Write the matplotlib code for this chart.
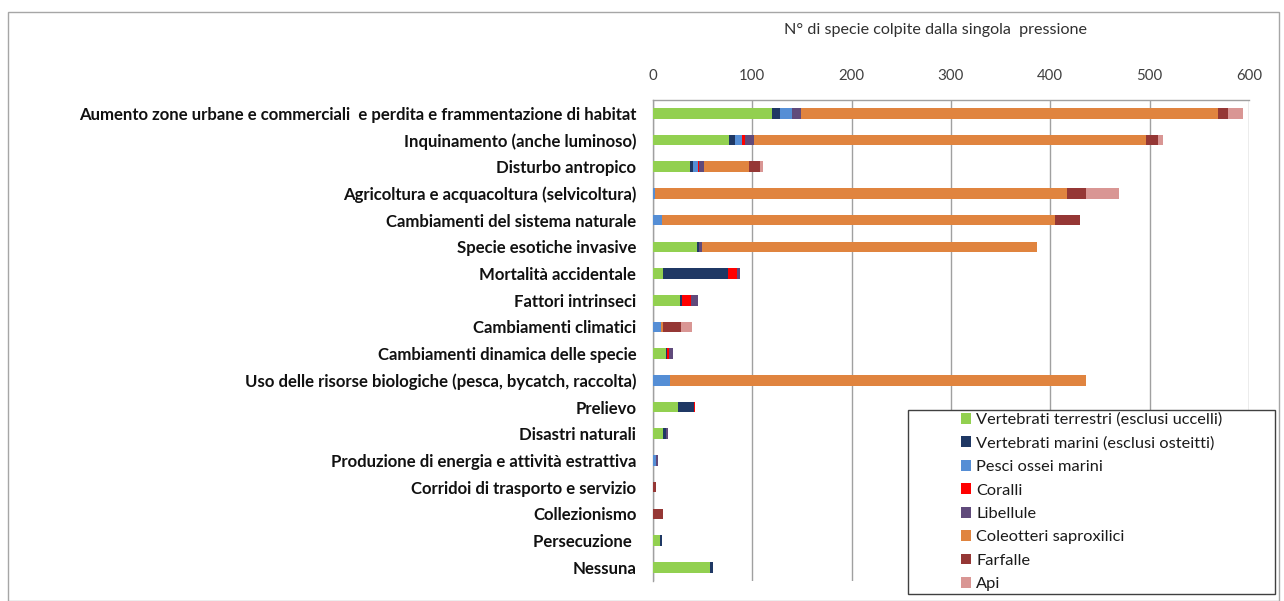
import matplotlib
matplotlib.use("Agg")
import matplotlib.pyplot as plt
from matplotlib.patches import Rectangle, Patch
import numpy as np

categories = [
    "Aumento zone urbane e commerciali  e perdita e frammentazione di habitat",
    "Inquinamento (anche luminoso)",
    "Disturbo antropico",
    "Agricoltura e acquacoltura (selvicoltura)",
    "Cambiamenti del sistema naturale",
    "Specie esotiche invasive",
    "Mortalità accidentale",
    "Fattori intrinseci",
    "Cambiamenti climatici",
    "Cambiamenti dinamica delle specie",
    "Uso delle risorse biologiche (pesca, bycatch, raccolta)",
    "Prelievo",
    "Disastri naturali",
    "Produzione di energia e attività estrattiva",
    "Corridoi di trasporto e servizio",
    "Collezionismo",
    "Persecuzione ",
    "Nessuna",
]

series_names = [
    "Vertebrati terrestri (esclusi uccelli)",
    "Vertebrati marini (esclusi osteitti)",
    "Pesci ossei marini",
    "Coralli",
    "Libellule",
    "Coleotteri saproxilici",
    "Farfalle",
    "Api",
]

vertebrati_terrestri = [120, 77, 37, 0, 0, 44, 10, 27, 0, 13, 0, 25, 10, 0, 0, 0, 7, 57]
vertebrati_marini    = [8, 6, 3, 0, 0, 2, 65, 2, 0, 1, 0, 16, 3, 0, 0, 0, 2, 3]
pesci_ossei          = [12, 7, 5, 2, 9, 0, 0, 0, 8, 0, 17, 0, 0, 3, 0, 0, 0, 0]
coralli              = [0, 3, 1, 0, 0, 0, 10, 9, 0, 2, 0, 1, 0, 0, 0, 0, 0, 0]
libellule            = [9, 9, 5, 0, 0, 3, 3, 7, 0, 4, 0, 0, 2, 2, 0, 0, 0, 0]
coleotteri           = [420, 394, 46, 415, 396, 338, 0, 0, 2, 0, 419, 0, 0, 0, 0, 0, 0, 0]
farfalle             = [10, 12, 11, 19, 25, 0, 0, 0, 18, 0, 0, 0, 0, 0, 3, 10, 0, 0]
api                  = [15, 5, 3, 33, 0, 0, 0, 0, 11, 0, 0, 0, 0, 0, 0, 0, 0, 0]

series = [vertebrati_terrestri, vertebrati_marini, pesci_ossei, coralli,
          libellule, coleotteri, farfalle, api]
colors = ["#92D050", "#1F3864", "#558ED5", "#FF0000", "#604A7B",
          "#E0843F", "#953735", "#D99694"]

xticks = [0, 100, 200, 300, 400, 500, 600]
title = "N° di specie colpite dalla singola  pressione"

W, H = 1284, 601
fig = plt.figure(figsize=(W / 100, H / 100), dpi=100)
fig.patch.set_facecolor("white")

# outer chart border
fig.patches.append(Rectangle((8 / W, 0), (1279 - 8) / W, 1 - 12 / H,
                             transform=fig.transFigure, fill=False,
                             edgecolor="#A6A6A6", linewidth=1.0, zorder=0))

ax_l, ax_r, ax_t, ax_b = 653, 1249, 100, 580.6
ax = fig.add_axes([ax_l / W, 1 - ax_b / H, (ax_r - ax_l) / W, (ax_b - ax_t) / H])

y = np.arange(len(categories))
left = np.zeros(len(categories))
for name, vals, c in zip(series_names, series, colors):
    v = np.array(vals, dtype=float)
    ax.barh(y, v, left=left, height=0.4, color=c, label=name, zorder=3)
    left += v

ax.set_ylim(len(categories) - 0.5, -0.5)
ax.set_xlim(0, 600)
ax.set_xticks(xticks)
ax.xaxis.tick_top()
ax.tick_params(axis="x", length=0, pad=12, labelsize=10.8, labelcolor="#404040")
for lbl in ax.get_xticklabels():
    lbl.set_fontfamily("Lato")
ax.set_yticks(y)
ax.set_yticklabels(categories, fontfamily="Lato", fontweight="bold",
                   fontsize=12.1, color="#111111")
ax.tick_params(axis="y", length=0, pad=12)

ax.grid(axis="x", color="#A0A0A0", linewidth=1.0, zorder=0)
ax.set_axisbelow(True)
for s in ["right", "bottom"]:
    ax.spines[s].set_visible(False)
for s in ["top", "left"]:
    ax.spines[s].set_color("#A0A0A0")
    ax.spines[s].set_linewidth(1.0)

fig.text(935 / W, 1 - 30 / H, title, ha="center", va="center",
         fontfamily="Lato", fontsize=11.6, color="#303030")

# legend box
lx0, lx1, ly0, ly1 = 908, 1275, 410, 594
fig.patches.append(Rectangle((lx0 / W, 1 - ly1 / H), (lx1 - lx0) / W, (ly1 - ly0) / H,
                             transform=fig.transFigure, facecolor="white",
                             edgecolor="#404040", linewidth=1.0, zorder=5))
handles = [Patch(facecolor=c, edgecolor="none") for c in colors]
leg = fig.legend(handles, series_names, loc="center",
                 bbox_to_anchor=((lx0 + lx1) / 2 / W, 1 - (ly0 + ly1) / 2 / H),
                 frameon=False, prop={"family": "Lato", "size": 11.8},
                 handlelength=0.65, handleheight=0.65, handletextpad=0.3,
                 labelspacing=0.56, borderaxespad=0)
leg.set_zorder(6)
for t in leg.get_texts():
    t.set_color("#1a1a1a")

fig.savefig("out.png", dpi=100)
